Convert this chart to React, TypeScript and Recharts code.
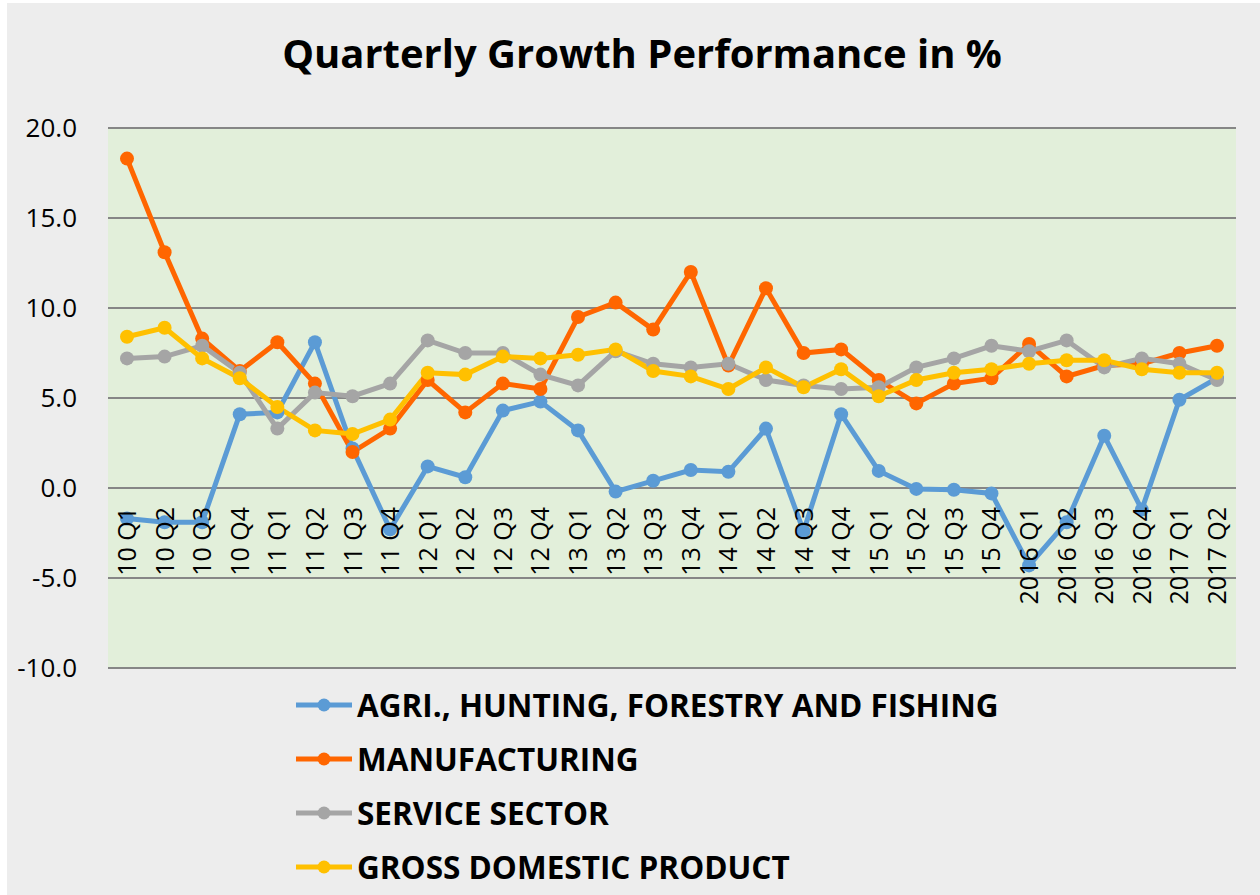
import { CartesianGrid, Line, LineChart, XAxis, YAxis } from "recharts";

const quarters = [
  "10 Q1", "10 Q2", "10 Q3", "10 Q4",
  "11 Q1", "11 Q2", "11 Q3", "11 Q4",
  "12 Q1", "12 Q2", "12 Q3", "12 Q4",
  "13 Q1", "13 Q2", "13 Q3", "13 Q4",
  "14 Q1", "14 Q2", "14 Q3", "14 Q4",
  "15 Q1", "15 Q2", "15 Q3", "15 Q4",
  "2016 Q1", "2016 Q2", "2016 Q3", "2016 Q4",
  "2017 Q1", "2017 Q2",
];

const agri = [
  -1.7, -1.9, -1.9, 4.1, 4.2, 8.1, 2.2, -2.3, 1.2, 0.6, 4.3, 4.8, 3.2, -0.2, 0.4,
  1.0, 0.9, 3.3, -2.4, 4.1, 0.95, -0.05, -0.1, -0.3, -4.3, -1.9, 2.9, -1.2, 4.9, 6.1,
];
const manufacturing = [
  18.3, 13.1, 8.3, 6.5, 8.1, 5.8, 2.0, 3.3, 6.0, 4.2, 5.8, 5.5, 9.5, 10.3, 8.8,
  12.0, 6.8, 11.1, 7.5, 7.7, 6.0, 4.7, 5.8, 6.1, 8.0, 6.2, 6.8, 6.9, 7.5, 7.9,
];
const service = [
  7.2, 7.3, 7.9, 6.4, 3.3, 5.3, 5.1, 5.8, 8.2, 7.5, 7.5, 6.3, 5.7, 7.6, 6.9,
  6.7, 6.9, 6.0, 5.7, 5.5, 5.6, 6.7, 7.2, 7.9, 7.6, 8.2, 6.7, 7.2, 6.9, 6.0,
];
const gdp = [
  8.4, 8.9, 7.2, 6.1, 4.5, 3.2, 3.0, 3.8, 6.4, 6.3, 7.3, 7.2, 7.4, 7.7, 6.5,
  6.2, 5.5, 6.7, 5.6, 6.6, 5.1, 6.0, 6.4, 6.6, 6.9, 7.1, 7.1, 6.6, 6.4, 6.4,
];

const yTicks = [-10, -5, 0, 5, 10, 15, 20];

const SERIES = [
  { key: "agri", name: "AGRI., HUNTING, FORESTRY AND FISHING", color: "#5B9BD5" },
  { key: "manufacturing", name: "MANUFACTURING", color: "#FF6600" },
  { key: "service", name: "SERVICE SECTOR", color: "#A5A5A5" },
  { key: "gdp", name: "GROSS DOMESTIC PRODUCT", color: "#FFC000" },
];

const W = 1253;
const H = 892;
const MARGIN = { top: 125, right: 24, bottom: 197, left: 0 };
const X_AXIS_H = 30;
const PLOT_H = H - MARGIN.top - MARGIN.bottom - X_AXIS_H;
const Y_MIN = -10;
const Y_MAX = 20;
const ZERO_FROM_BOTTOM = (PLOT_H * (0 - Y_MIN)) / (Y_MAX - Y_MIN);
const FONT = "'Open Sans', 'Noto Sans', sans-serif";

const data = quarters.map((q, i) => ({
  q,
  agri: agri[i],
  manufacturing: manufacturing[i],
  service: service[i],
  gdp: gdp[i],
}));

function QuarterTick({ x, y, payload }: any) {
  const ty = y - ZERO_FROM_BOTTOM + 19;
  return (
    <text
      x={x}
      y={ty}
      dy="0.36em"
      textAnchor="end"
      transform={`rotate(-90 ${x} ${ty})`}
      fill="#000"
      fontFamily={FONT}
      fontSize={25}
    >
      {payload.value}
    </text>
  );
}

export default function App() {
  return (
    <div
      style={{
        position: "absolute",
        left: 7,
        top: 3,
        width: W,
        height: H,
        background: "#EDEDED",
        fontFamily: FONT,
      }}
    >
      <div
        style={{
          position: "absolute",
          left: 635,
          top: 30,
          transform: "translateX(-50%)",
          whiteSpace: "nowrap",
          fontSize: 40,
          lineHeight: "40px",
          fontWeight: 700,
          color: "#000",
        }}
      >
        Quarterly Growth Performance in %
      </div>

      <LineChart width={W} height={H} data={data} margin={MARGIN}>
        <CartesianGrid
          vertical={false}
          fill="#E2EFDA"
          stroke="#868686"
          strokeWidth={2}
        />
        <XAxis
          dataKey="q"
          axisLine={false}
          tickLine={false}
          tickSize={0}
          tickMargin={0}
          height={X_AXIS_H}
          interval={0}
          padding={{ left: 19, right: 19 }}
          tick={<QuarterTick />}
        />
        <YAxis
          domain={[Y_MIN, Y_MAX]}
          ticks={yTicks}
          width={101}
          axisLine={false}
          tickLine={false}
          tickSize={0}
          tickMargin={31}
          tickFormatter={(v: number) => v.toFixed(1)}
          tick={{ fill: "#000", fontSize: 26, fontFamily: FONT }}
        />
        {SERIES.map((s) => (
          <Line
            key={s.key}
            dataKey={s.key}
            name={s.name}
            type="linear"
            stroke={s.color}
            strokeWidth={5}
            dot={{ r: 7, fill: s.color, stroke: s.color, strokeWidth: 0 }}
            activeDot={false}
            isAnimationActive={false}
          />
        ))}
      </LineChart>

      <div style={{ position: "absolute", left: 289, top: 675 }}>
        {SERIES.map((s) => (
          <div
            key={s.key}
            style={{ display: "flex", alignItems: "center", height: 54 }}
          >
            <svg width={56} height={16} style={{ flex: "none" }}>
              <line x1={0} y1={8} x2={56} y2={8} stroke={s.color} strokeWidth={5} strokeLinecap="round" />
              <circle cx={28} cy={8} r={6.5} fill={s.color} />
            </svg>
            <span
              style={{
                marginLeft: 5,
                fontSize: 31.5,
                lineHeight: "54px",
                fontWeight: 700,
                color: "#000",
                whiteSpace: "nowrap",
              }}
            >
              {s.name}
            </span>
          </div>
        ))}
      </div>
    </div>
  );
}
